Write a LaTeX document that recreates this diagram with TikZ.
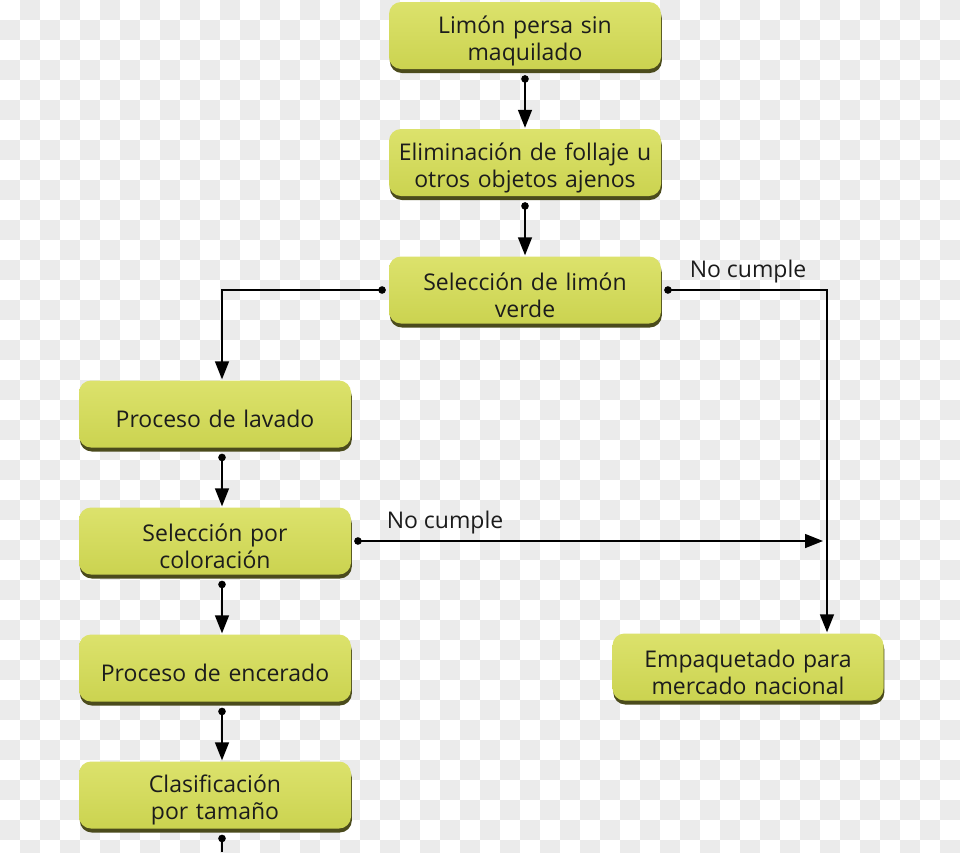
\documentclass[tikz,border=0pt]{standalone}
\usepackage{fontspec}
\setmainfont[Ligatures=NoCommon]{Open Sans}
\usetikzlibrary{arrows.meta}
\lineskiplimit=-20pt
\lineskip=0pt
\definecolor{boxtop}{HTML}{DCE26C}
\definecolor{boxbot}{HTML}{CBD350}
\definecolor{boxshadow}{HTML}{4B4B1C}
\definecolor{checker}{HTML}{EBEBEB}
\definecolor{txt}{HTML}{1C1C1C}
\tikzset{
  stepbox/.style={rounded corners=12pt, minimum width=272pt, minimum height=67pt,
    inner sep=0pt, text width=270pt, align=center, text=txt,
    font=\fontsize{23}{27}\selectfont,
    preaction={fill=boxshadow, transform canvas={yshift=1pt, xshift=0.8pt}},
    preaction={shade, top color=boxtop, bottom color=boxbot, transform canvas={yshift=5pt}}},
  conn/.style={line width=1.5pt, black, {Circle[length=7.5pt]}-{Triangle[width=14pt,length=18pt]}},
  connend/.style={line width=1.5pt, black, {Circle[length=7.5pt]}-},
  lbl/.style={text=txt, font=\fontsize{23}{27}\selectfont, inner sep=0pt}
}
\begin{document}
\begin{tikzpicture}[x=1pt,y=-1pt]
\useasboundingbox (0,0) rectangle (960,852);
\fill[white] (0,0) rectangle (960,852);
\foreach \a in {0,40,...,920}{
  \foreach \b in {0,40,...,840}{
    \fill[checker] (\a+20,\b) rectangle +(20,20);
    \fill[checker] (\a,\b+20) rectangle +(20,20);
  }
}
% node centres sit 5pt below the drawn box centres (the box is drawn raised)
\node[stepbox] (b1) at (525,40.5) {Limón persa sin\\maquilado};
\node[stepbox] (b2) at (525,167.5) {Eliminación de follaje u\\otros objetos ajenos};
\node[stepbox] (b3) at (525,295) {Selección de limón\\verde};
\node[stepbox] (b4) at (215,419) {Proceso de lavado};
\node[stepbox] (b5) at (215,546) {Selección por\\coloración};
\node[stepbox] (b6) at (215,673) {Proceso de encerado};
\node[stepbox] (b7) at (215,800) {Clasificación\\por tamaño};
\node[stepbox, minimum width=271pt] (b8) at (748,672) {Empaquetado para\\mercado nacional};
\node[lbl] (l1) at (748,272) {No cumple};
\node[lbl] (l2) at (445,523) {No cumple};
\coordinate (j1) at (823,541);
\coordinate (e1) at (222,852);

\draw[conn] ([yshift=-1pt]b1.south) -- ([yshift=6pt]b2.north);
\draw[conn] ([yshift=-1pt]b2.south) -- ([yshift=6pt]b3.north);
\draw[conn] ([xshift=-3pt,yshift=5pt]b3.west) -| ([xshift=7pt,yshift=6pt]b4.north);
\draw[conn] ([xshift=3pt,yshift=5pt]b3.east) -| ([xshift=79pt,yshift=6pt]b8.north);
\draw[conn] ([xshift=7pt,yshift=-1pt]b4.south) -- ([xshift=7pt,yshift=6pt]b5.north);
\draw[conn] ([xshift=3pt,yshift=5pt]b5.east) -- (j1);
\draw[conn] ([xshift=7pt,yshift=-1pt]b5.south) -- ([xshift=7pt,yshift=6pt]b6.north);
\draw[conn] ([xshift=7pt,yshift=-1pt]b6.south) -- ([xshift=7pt,yshift=6pt]b7.north);
\draw[connend] ([xshift=7pt,yshift=-1pt]b7.south) -- (e1);
\end{tikzpicture}
\end{document}
